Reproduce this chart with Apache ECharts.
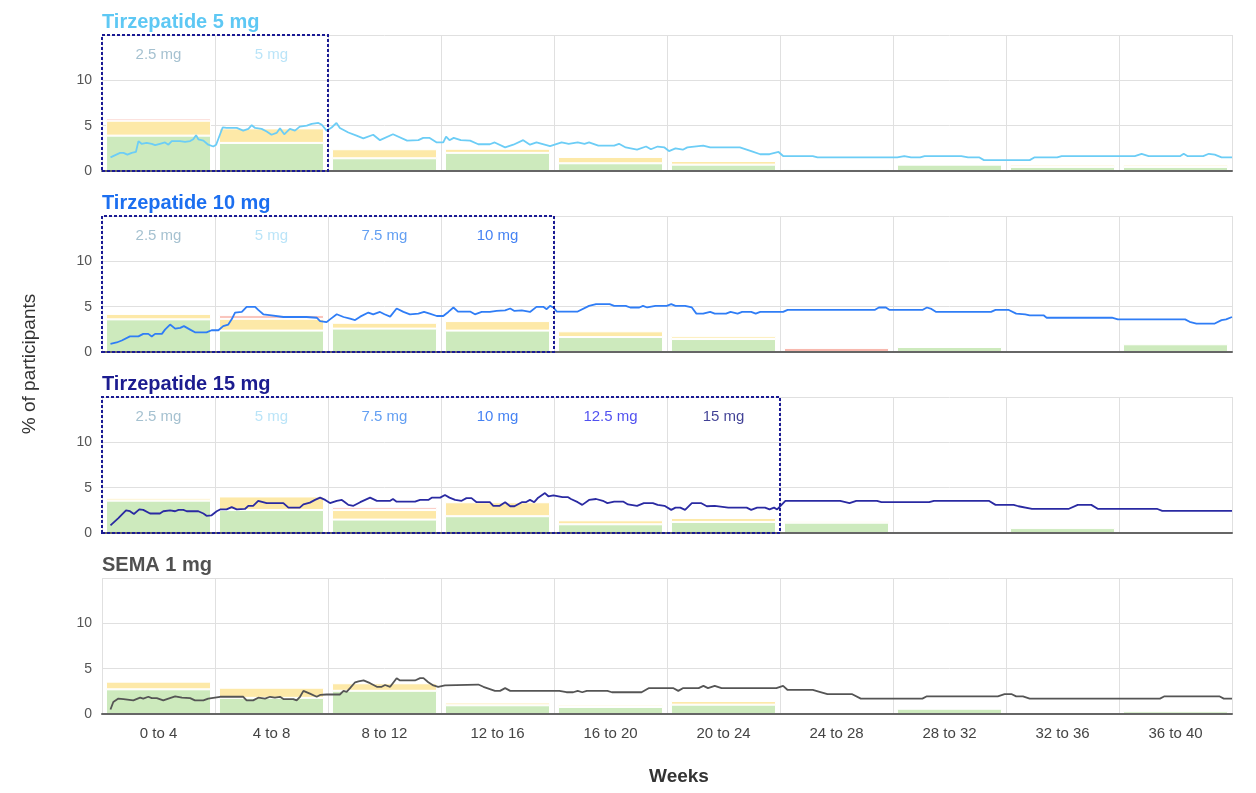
<!DOCTYPE html>
<html>
<head>
<meta charset="utf-8">
<script src="https://cdn.jsdelivr.net/npm/echarts@6/dist/echarts.min.js"></script>
<style>
  html, body { margin: 0; padding: 0; background: #fff; }
  #chart { width: 1256px; height: 793px; }
</style>
</head>
<body>
<div id="chart"></div>
<script>
// Four-week bins shared by every panel
const weekBins = ['0 to 4', '4 to 8', '8 to 12', '12 to 16', '16 to 20',
                  '20 to 24', '24 to 28', '28 to 32', '32 to 36', '36 to 40'];

// Incidence by severity (% of participants) per four-week bin
const mildT5 = [3.9, 3.1, 1.4, 2.0, 0.85, 0.7, 0.2, 0.7, 0.45, 0.45];
const moderateT5 = [1.65, 1.6, 1.0, 0.45, 0.7, 0.4, 0, 0, 0.25, 0.25];
const severeT5 = [0.25, 0.1, 0, 0, 0, 0, 0, 0, 0, 0];

const mildT10 = [3.6, 2.36, 2.58, 2.36, 1.65, 1.43, 0, 0.55, 0.15, 0.85];
const moderateT10 = [0.6, 1.3, 0.64, 1.05, 0.63, 0.3, 0, 0, 0, 0];
const severeT10 = [0, 0.4, 0, 0, 0, 0, 0.45, 0, 0, 0];

const mildT15 = [3.57, 2.53, 1.48, 1.85, 0.96, 1.22, 1.14, 0.2, 0.54, 0];
const moderateT15 = [0.25, 1.5, 1.05, 1.54, 0.44, 0.44, 0.2, 0, 0, 0];
const severeT15 = [0, 0, 0.3, 0, 0, 0, 0, 0, 0, 0];

const mildSema = [2.72, 1.78, 2.56, 0.96, 0.77, 1.03, 0, 0.58, 0, 0.3];
const moderateSema = [0.85, 1.12, 0.83, 0.3, 0.25, 0.4, 0, 0, 0, 0];
const severeSema = [0, 0, 0, 0, 0, 0, 0, 0, 0, 0];

// Prevalence over time: [week, % of participants]
const prevT5 = [[0.3,1.5],[0.64,2.0],[0.76,2.0],[0.9,1.8],[1.05,2.0],[1.2,2.1],[1.29,3.3],[1.4,3.0],[1.58,3.1],[1.76,3.0],[1.88,2.85],[2.05,3.0],[2.23,3.15],[2.35,2.9],[2.47,3.3],[2.76,3.3],[2.94,3.2],[3.12,3.3],[3.23,3.5],[3.33,3.95],[3.41,3.5],[3.59,3.35],[3.76,2.9],[3.94,2.7],[4.04,2.9],[4.27,4.8],[4.41,4.75],[4.77,4.75],[5.0,4.45],[5.18,4.65],[5.3,5.05],[5.42,4.75],[5.65,4.65],[5.83,4.35],[6.0,4.0],[6.18,4.2],[6.3,4.7],[6.45,4.05],[6.65,4.65],[6.83,4.45],[7.0,4.9],[7.25,5.0],[7.42,5.2],[7.66,5.3],[7.78,5.1],[7.95,4.45],[8.13,4.8],[8.3,5.3],[8.42,4.75],[8.72,4.25],[9.01,3.9],[9.25,3.6],[9.6,4.0],[9.84,3.4],[10.3,4.05],[10.8,3.35],[11.2,3.4],[11.37,3.65],[11.6,3.65],[11.85,3.15],[12.08,3.15],[12.18,3.8],[12.3,3.4],[12.45,3.65],[12.7,3.4],[13.03,3.35],[13.32,2.95],[13.73,2.95],[13.9,3.15],[14.27,2.6],[14.56,2.9],[14.91,3.4],[15.15,2.9],[15.38,3.15],[15.86,2.75],[16.27,3.15],[16.52,3.0],[16.84,3.15],[17.08,3.0],[17.24,3.15],[17.57,2.8],[18.13,2.8],[18.3,3.0],[18.54,2.6],[18.94,2.35],[19.26,2.7],[19.43,2.4],[19.67,2.7],[19.91,2.6],[20.07,2.2],[20.3,2.5],[20.56,2.35],[20.72,2.6],[21.28,2.8],[21.53,2.6],[22.58,2.6],[22.98,2.2],[23.3,1.85],[23.63,1.85],[23.95,2.1],[24.11,1.65],[25.16,1.65],[25.33,1.5],[28.15,1.5],[28.4,1.65],[28.64,1.5],[28.96,1.5],[29.12,1.65],[30.42,1.65],[30.66,1.5],[31.06,1.5],[31.22,1.2],[32.84,1.2],[33.0,1.5],[33.81,1.5],[33.97,1.65],[36.56,1.65],[36.8,1.9],[37.05,1.65],[38.17,1.65],[38.29,1.9],[38.42,1.65],[38.98,1.65],[39.18,1.9],[39.39,1.8],[39.63,1.5],[40,1.5]];

const prevT10 = [[0.3,0.9],[0.52,1.05],[0.7,1.27],[0.99,1.72],[1.29,1.72],[1.46,2.0],[1.64,2.0],[1.76,1.72],[1.88,2.0],[2.12,2.0],[2.23,2.47],[2.41,3.03],[2.59,2.58],[2.77,2.66],[2.9,2.85],[3.12,2.47],[3.29,2.17],[3.7,2.17],[3.88,2.4],[4.12,2.4],[4.29,2.85],[4.47,3.03],[4.59,3.6],[4.71,4.35],[4.95,4.42],[5.12,4.98],[5.42,4.98],[5.53,4.64],[5.71,4.16],[6.0,4.05],[6.42,3.86],[7.24,3.86],[7.6,3.78],[7.72,3.4],[7.95,3.29],[8.07,3.6],[8.31,4.16],[8.55,3.86],[8.78,3.67],[8.96,3.52],[9.14,3.9],[9.43,4.35],[9.6,4.16],[9.84,4.42],[10.0,4.16],[10.2,3.9],[10.43,4.8],[10.67,4.42],[10.9,4.16],[11.2,4.23],[11.4,4.42],[11.6,4.23],[11.85,3.97],[12.08,3.97],[12.26,4.42],[12.44,4.91],[12.6,4.46],[13.03,4.46],[13.2,4.16],[13.44,4.42],[13.73,4.42],[13.97,4.53],[14.27,4.6],[14.45,4.8],[14.6,4.53],[14.86,4.6],[15.15,4.42],[15.38,4.98],[15.62,4.98],[15.74,4.72],[15.86,5.09],[15.98,4.91],[16.1,4.46],[16.84,4.46],[17.24,5.09],[17.49,5.28],[17.97,5.28],[18.13,5.09],[18.54,5.09],[18.7,4.91],[19.02,4.91],[19.15,5.09],[19.3,4.91],[19.59,5.09],[19.99,5.09],[20.15,5.28],[20.3,5.09],[20.64,5.09],[20.88,4.91],[21.04,4.23],[21.28,4.23],[21.53,4.42],[21.69,4.23],[22.09,4.23],[22.25,4.42],[22.5,4.23],[22.66,4.42],[22.98,4.42],[23.14,4.23],[23.3,4.42],[24.11,4.42],[24.27,4.64],[27.35,4.64],[27.5,4.91],[27.75,4.91],[27.88,4.64],[29.04,4.64],[29.2,4.91],[29.36,4.75],[29.53,4.42],[31.47,4.42],[31.63,4.64],[32.1,4.64],[32.36,4.23],[32.68,4.16],[32.84,4.05],[33.33,4.05],[33.44,3.78],[35.75,3.78],[35.96,3.6],[38.34,3.6],[38.5,3.33],[38.74,3.14],[39.39,3.14],[39.63,3.52],[39.79,3.6],[40,3.86]];

const prevT15 = [[0.3,0.85],[0.58,1.65],[0.85,2.5],[0.99,2.4],[1.13,2.1],[1.32,2.6],[1.46,2.55],[1.7,2.15],[2.05,2.15],[2.17,2.4],[2.41,2.5],[2.59,2.4],[2.71,2.55],[2.88,2.55],[3.0,2.4],[3.41,2.4],[3.59,2.15],[3.7,1.9],[3.88,1.95],[4.06,2.4],[4.18,2.6],[4.41,2.6],[4.59,2.85],[4.77,2.6],[5.06,2.65],[5.18,3.0],[5.35,3.0],[5.53,3.55],[5.83,3.3],[6.42,3.3],[6.6,2.8],[7.0,2.8],[7.13,3.15],[7.36,3.35],[7.54,3.65],[7.72,3.9],[7.9,3.65],[8.07,3.3],[8.31,3.55],[8.49,3.65],[8.6,3.4],[8.72,3.1],[8.9,3.0],[9.14,3.4],[9.49,3.9],[9.73,3.55],[10.2,3.55],[10.3,3.75],[10.43,3.45],[11.08,3.45],[11.26,3.65],[11.55,3.65],[11.67,3.9],[11.97,3.9],[12.14,4.2],[12.3,3.9],[12.5,3.65],[12.73,3.55],[12.9,3.85],[13.08,3.85],[13.26,3.4],[13.73,3.4],[13.85,3.0],[14.08,3.0],[14.27,3.4],[14.45,2.95],[14.6,2.95],[14.86,3.4],[15.0,3.4],[15.15,3.65],[15.3,3.4],[15.44,3.9],[15.68,4.4],[15.8,4.05],[15.98,4.15],[16.3,3.95],[16.5,3.95],[16.6,3.75],[16.84,3.4],[17.0,3.1],[17.24,3.65],[17.49,3.75],[17.73,3.55],[17.89,3.3],[18.13,3.45],[18.46,3.45],[18.62,3.15],[18.94,3.0],[19.18,3.3],[19.5,3.3],[19.67,3.1],[19.91,3.0],[20.15,2.55],[20.3,2.8],[20.47,2.8],[20.64,2.55],[20.88,3.3],[21.2,3.3],[21.41,2.95],[21.69,3.0],[22.17,2.8],[22.82,2.8],[22.98,2.55],[23.19,2.8],[23.47,2.8],[23.63,2.6],[23.79,2.8],[23.9,2.6],[24.19,3.55],[26.13,3.55],[26.46,3.3],[26.7,3.55],[27.43,3.55],[27.59,3.4],[29.28,3.4],[29.45,3.55],[31.39,3.55],[31.63,3.1],[32.27,3.1],[32.44,2.95],[32.92,2.65],[34.21,2.65],[34.54,3.1],[35.02,3.1],[35.26,2.65],[37.36,2.65],[37.53,2.45],[40,2.45]];

const prevSema = [[0.3,0.5],[0.4,1.33],[0.58,1.7],[0.76,1.65],[1.11,1.5],[1.35,1.8],[1.46,1.7],[1.64,1.9],[1.76,1.75],[1.94,1.75],[2.17,1.5],[2.35,1.7],[2.59,1.95],[2.83,1.8],[3.12,1.75],[3.29,1.5],[3.59,1.5],[3.76,1.7],[4.18,1.9],[5.0,1.9],[5.12,1.5],[5.35,1.5],[5.53,1.8],[5.77,1.7],[5.95,1.9],[6.12,1.8],[6.3,1.9],[6.42,1.65],[6.77,1.65],[6.89,1.5],[7.01,1.9],[7.13,2.55],[7.36,2.25],[7.6,1.9],[7.72,2.1],[7.95,2.15],[8.42,2.15],[8.55,2.55],[8.66,2.45],[8.78,2.85],[8.96,3.5],[9.08,3.6],[9.26,3.7],[9.49,3.4],[9.73,3.0],[9.9,3.0],[10.02,3.2],[10.2,3.0],[10.43,3.95],[10.55,3.7],[11.08,3.7],[11.26,3.95],[11.38,3.95],[11.55,3.5],[11.73,3.15],[11.9,3.0],[12.14,3.15],[13.32,3.25],[13.5,3.0],[13.91,2.55],[14.09,2.55],[14.27,2.85],[14.45,2.55],[16.19,2.55],[16.44,2.4],[16.68,2.4],[16.84,2.55],[17.0,2.4],[17.16,2.55],[17.89,2.55],[18.05,2.4],[19.1,2.4],[19.35,2.85],[20.23,2.85],[20.4,2.55],[20.56,2.85],[21.12,2.85],[21.29,3.1],[21.45,2.85],[21.69,3.1],[21.93,2.85],[23.87,2.85],[24.11,3.1],[24.27,2.65],[25.16,2.65],[25.4,2.45],[25.68,2.2],[26.54,2.2],[26.86,1.7],[29.04,1.7],[29.2,1.95],[31.71,1.95],[31.95,2.2],[32.19,2.2],[32.36,1.95],[32.6,1.95],[32.84,1.7],[37.45,1.7],[37.61,1.95],[39.55,1.95],[39.71,1.7],[40,1.7]];

// Dose-escalation steps (one per four-week bin)
const dosesT5 = ['2.5 mg', '5 mg'];
const dosesT10 = ['2.5 mg', '5 mg', '7.5 mg', '10 mg'];
const dosesT15 = ['2.5 mg', '5 mg', '7.5 mg', '10 mg', '12.5 mg', '15 mg'];
const dosesSema = [];

const yTicks = [0, 5, 10, 15];

const doseColor = {
  '2.5 mg': '#8fb2c4', '5 mg': '#a9ddf6', '7.5 mg': '#3c87ef',
  '10 mg': '#1663f0', '12.5 mg': '#2626ec', '15 mg': '#12127c'
};
const severityColor = { mild: '#cdeabd', moderate: '#fde9a8', severe: '#f8b8ae' };

const panels = [
  { title: 'Tirzepatide 5 mg',  color: '#5ec8f4', line: '#6ccdf6', mild: mildT5,   moderate: moderateT5,   severe: severeT5,   prev: prevT5,   doses: dosesT5 },
  { title: 'Tirzepatide 10 mg', color: '#1c6ff0', line: '#2f7df6', mild: mildT10,  moderate: moderateT10,  severe: severeT10,  prev: prevT10,  doses: dosesT10 },
  { title: 'Tirzepatide 15 mg', color: '#1c1c90', line: '#2a2aa2', mild: mildT15,  moderate: moderateT15,  severe: severeT15,  prev: prevT15,  doses: dosesT15 },
  { title: 'SEMA 1 mg',         color: '#505050', line: '#555555', mild: mildSema, moderate: moderateSema, severe: severeSema, prev: prevSema, doses: dosesSema }
];

const FONT = '"Liberation Sans", Arial, Helvetica, sans-serif';
const PANEL_TOP = 35, PANEL_STEP = 181, PANEL_H = 136;

const grid = [], xAxis = [], yAxis = [], series = [], title = [];

panels.forEach((p, i) => {
  grid.push({ left: 102, right: 24, top: PANEL_TOP + PANEL_STEP * i, height: PANEL_H });
  title.push({
    text: p.title, left: 97, top: PANEL_TOP - 28 + PANEL_STEP * i,
    textStyle: { color: p.color, fontSize: 20, fontWeight: 'bold', fontFamily: FONT }
  });
  // category axis for the binned bars (drawn above the bars so the baseline stays visible)
  xAxis.push({
    type: 'category', gridIndex: i, data: weekBins, z: 4,
    axisTick: { show: false },
    axisLine: { lineStyle: { color: '#666', width: 2 } },
    axisLabel: { show: i === panels.length - 1, color: '#444', fontSize: 15, margin: 12, fontFamily: FONT },
    splitLine: { show: true, lineStyle: { color: '#e0e0e0', width: 1 } }
  });
  // continuous week axis for the prevalence line
  xAxis.push({ type: 'value', gridIndex: i, min: 0, max: 40, show: false });
  yAxis.push({
    type: 'value', gridIndex: i, min: yTicks[0], max: yTicks[yTicks.length - 1], interval: 5,
    axisLine: { show: false }, axisTick: { show: false },
    axisLabel: { color: '#555', fontSize: 14, margin: 10, fontFamily: FONT,
                 formatter: v => (v === yTicks[yTicks.length - 1] ? '' : String(v)) },
    splitLine: { lineStyle: { color: '#e0e0e0', width: 1 } }
  });

  [['mild', p.mild], ['moderate', p.moderate], ['severe', p.severe]].forEach(([key, vals]) => {
    series.push({
      type: 'bar', name: key, xAxisIndex: 2 * i, yAxisIndex: i, stack: 'sev' + i,
      data: vals.map(v => (v > 0 ? v : '-')), barCategoryGap: '7%', silent: true,
      itemStyle: { color: severityColor[key], borderColor: '#fff', borderWidth: 1 }
    });
  });

  const lineSeries = {
    type: 'line', xAxisIndex: 2 * i + 1, yAxisIndex: i, data: p.prev,
    showSymbol: false, silent: true, clip: false, z: 5,
    lineStyle: { color: p.line, width: 1.8 }
  };
  if (p.doses.length) {
    // dashed frame around the dose-escalation period
    lineSeries.markArea = {
      silent: true, z: 10,
      itemStyle: { color: 'rgba(0,0,0,0)', borderColor: '#1a1a94', borderWidth: 2, borderType: [3, 2] },
      data: [[{ xAxis: 0, yAxis: 0 }, { xAxis: p.doses.length * 4, yAxis: 15 }]]
    };
    series.push({
      type: 'scatter', xAxisIndex: 2 * i, yAxisIndex: i, symbolSize: 0.1, silent: true, z: 6,
      itemStyle: { color: 'rgba(0,0,0,0)' },
      data: p.doses.map((d, k) => ({ value: [k, 12.8], label: { color: doseColor[d] } })),
      label: { show: true, position: 'inside', fontSize: 15, fontFamily: FONT,
               formatter: prm => p.doses[prm.dataIndex] }
    });
  }
  series.push(lineSeries);
});

const chart = echarts.init(document.getElementById('chart'), null, { renderer: 'canvas' });
chart.setOption({
  animation: false,
  backgroundColor: '#fff',
  textStyle: { fontFamily: FONT },
  title, grid, xAxis, yAxis, series,
  graphic: [
    { type: 'text', x: 30, y: 364, rotation: Math.PI / 2,
      style: { text: '% of participants', fill: '#333', font: '19px ' + FONT, textAlign: 'center', textVerticalAlign: 'middle' } },
    { type: 'text', x: 679, y: 777,
      style: { text: 'Weeks', fill: '#333', font: 'bold 19px ' + FONT, textAlign: 'center', textVerticalAlign: 'middle' } }
  ]
});
</script>
</body>
</html>
